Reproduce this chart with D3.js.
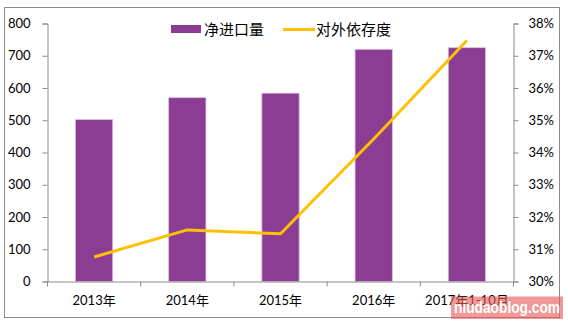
<!DOCTYPE html>
<html>
<head>
<meta charset="utf-8">
<script src="https://cdn.jsdelivr.net/npm/d3@7/dist/d3.min.js"></script>
<style>
  html, body { margin: 0; padding: 0; background: #fff; }
  svg { display: block; }
  text { font-family: Lato, "Open Sans", "Noto Sans CJK SC", sans-serif; fill: #000; }
</style>
</head>
<body>
<script>
// Net imports (bars, left axis) and external dependence ratio (line, right axis)
const categories = ["2013年", "2014年", "2015年", "2016年", "2017年1-10月"];
const netImports = [502, 570, 584, 720, 725];
const dependence = [30.76, 31.6, 31.48, 34.42, 37.47];
const leftTicks = [0, 100, 200, 300, 400, 500, 600, 700, 800];
const rightTicks = [30, 31, 32, 33, 34, 35, 36, 37, 38];
const seriesNames = ["净进口量", "对外依存度"];

const W = 568, H = 324;
const barColor = "#8b3d94";
const lineColor = "#ffc000";
const cjk = "'Noto Sans CJK SC', sans-serif";

const svg = d3.select("body").append("svg").attr("width", W).attr("height", H);

// chart frame
svg.append("rect")
  .attr("x", 4.5).attr("y", 7.5).attr("width", 555).attr("height", 310)
  .attr("fill", "#fff").attr("stroke", "#8c8c8c").attr("stroke-width", 1);

const plotL = 47.5, plotR = 513.5, plotT = 23.5, plotB = 281.5;

const x = d3.scaleBand().domain(categories).range([plotL, plotR]).paddingInner(0.6).paddingOuter(0.3);
const xb = d3.scaleBand().domain(categories).range([plotL, plotR]);
const yL = d3.scaleLinear().domain([0, 800]).range([plotB, plotT]);
const yR = d3.scaleLinear().domain([30, 38]).range([plotB, plotT]);

// bars
svg.append("g").selectAll("rect").data(netImports).join("rect")
  .attr("x", (d, i) => x(categories[i]))
  .attr("width", x.bandwidth())
  .attr("y", d => yL(d))
  .attr("height", d => plotB - yL(d))
  .attr("fill", barColor)
  .attr("stroke", "#d9c0df").attr("stroke-width", 0.8);

// line
const line = d3.line()
  .x((d, i) => xb(categories[i]) + xb.bandwidth() / 2)
  .y(d => yR(d));
svg.append("path").datum(dependence)
  .attr("d", line)
  .attr("fill", "none").attr("stroke", lineColor).attr("stroke-width", 3)
  .attr("stroke-linejoin", "round");

// axes
const axisColor = "#8c8c8c";
const gL = svg.append("g").attr("transform", `translate(${plotL},0)`)
  .call(d3.axisLeft(yL).tickValues(leftTicks).tickSize(5).tickPadding(12));
const gR = svg.append("g").attr("transform", `translate(${plotR},0)`)
  .call(d3.axisRight(yR).tickValues(rightTicks).tickSize(5).tickPadding(10)
    .tickFormat(d => d + "%"));
const gX = svg.append("g").attr("transform", `translate(0,${plotB})`)
  .call(d3.axisBottom(xb).tickSize(0).tickPadding(14));

[gL, gR, gX].forEach(g => {
  g.select(".domain").attr("stroke", axisColor);
  g.selectAll(".tick line").attr("stroke", axisColor);
  g.selectAll("text").attr("font-size", 13).attr("fill", "#000")
    .style("font-family", "Lato, 'Noto Sans CJK SC', sans-serif");
});

// category boundary ticks on the x axis
const bounds = categories.map(c => xb(c)).concat([plotR]);
svg.append("g").selectAll("line").data(bounds).join("line")
  .attr("x1", d => d).attr("x2", d => d)
  .attr("y1", plotB).attr("y2", plotB + 5)
  .attr("stroke", axisColor);

// legend
const lg = svg.append("g");
lg.append("rect").attr("x", 171).attr("y", 25).attr("width", 30).attr("height", 8).attr("fill", barColor);
lg.append("text").attr("x", 204).attr("y", 34.5).attr("font-size", 15)
  .style("font-family", cjk).text(seriesNames[0]);
lg.append("line").attr("x1", 283).attr("x2", 315).attr("y1", 29.5).attr("y2", 29.5)
  .attr("stroke", lineColor).attr("stroke-width", 3);
lg.append("text").attr("x", 316).attr("y", 34.5).attr("font-size", 15)
  .style("font-family", cjk).text(seriesNames[1]);

// site stamp
svg.append("rect").attr("x", 451).attr("y", 296.5).attr("width", 112).attr("height", 22.5)
  .attr("fill", "rgba(232,90,90,0.62)");
svg.append("text").attr("x", 454).attr("y", 312.5)
  .attr("font-size", 16).attr("font-weight", "bold")
  .attr("textLength", 106).attr("lengthAdjust", "spacingAndGlyphs")
  .style("font-family", "'Liberation Sans', sans-serif").style("fill", "#fff")
  .text("niudaoblog.com");
</script>
</body>
</html>
